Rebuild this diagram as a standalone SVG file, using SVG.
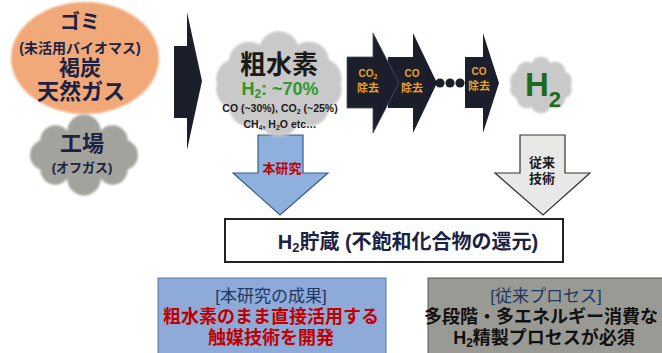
<svg xmlns="http://www.w3.org/2000/svg" width="662" height="353" viewBox="0 0 662 353">
<defs>
<style>
.t{font-family:"Liberation Sans","Noto Sans CJK JP",sans-serif;font-weight:bold;text-anchor:middle}
.navy{fill:#1b2243}
.dark{fill:#1b1e2b}
.cl{fill:#c9c9c9}
.or{fill:#e9a22a}
</style>
<filter id="soft" x="-10%" y="-10%" width="120%" height="120%"><feGaussianBlur stdDeviation="1.2"/></filter>
</defs>
<rect width="662" height="353" fill="#ffffff"/>

<g id="source-waste">
<ellipse cx="85" cy="58" rx="74" ry="56" fill="#f1a97a" filter="url(#soft)"/>
<text class="t navy" x="80" y="29" font-size="20">ゴミ</text>
<text class="t navy" x="80" y="53" font-size="14">(未活用バイオマス)</text>
<text class="t navy" x="80" y="75" font-size="21">褐炭</text>
<text class="t navy" x="81" y="99" font-size="22">天然ガス</text>
</g>

<g id="source-factory">
<path d="M138,155 A15,15 0 0 1 127.7,169.7 A15,15 0 0 1 100.7,178.8 A15,15 0 0 1 67.3,178.8 A15,15 0 0 1 40.3,169.7 A15,15 0 0 1 30,155 A15,15 0 0 1 40.3,140.3 A15,15 0 0 1 67.3,131.2 A15,15 0 0 1 100.7,131.2 A15,15 0 0 1 127.7,140.3 A15,15 0 0 1 138,155 Z" fill="#a3a39d" filter="url(#soft)"/>
<text class="t navy" x="82" y="151" font-size="22">工場</text>
<text class="t navy" x="82" y="172" font-size="13">(オフガス)</text>
</g>

<g id="connectors">
<polygon class="dark" points="174,46 187,46 187,12 202,81 187,150 187,118 174,118"/>
<polygon class="dark" points="388,57 413,57 413,33 437,83 413,133 413,108 388,108"/>
<polygon class="dark" points="347,57 373,57 373,33 399,83 373,133 373,108 347,108" stroke="#4a4f63" stroke-width="0.8"/>
<circle class="dark" cx="440" cy="83" r="4.6"/>
<circle class="dark" cx="450" cy="83" r="4.6"/>
<circle class="dark" cx="460" cy="83" r="4.6"/>
<polygon class="dark" points="465,57 483,57 483,33 499,83 483,133 483,108 465,108"/>
<polygon points="258,135 303,135 303,173 328,173 280,215 233,173 258,173" fill="#8db0dd" stroke="#3a5a8a" stroke-width="1.2"/>
<polygon points="520,135 565,135 565,173 590,173 543,215 495,173 520,173" fill="#e8e8e6" stroke="#333333" stroke-width="1.2"/>
</g>

<g id="step-co2">
<text class="t or" x="368" y="77" font-size="10">CO<tspan font-size="7" dy="2">2</tspan></text>
<text class="t or" x="368" y="92" font-size="11">除去</text>
</g>
<g id="step-co1">
<text class="t or" x="412" y="77" font-size="10">CO</text>
<text class="t or" x="412" y="92" font-size="11">除去</text>
</g>
<g id="step-co2b">
<text class="t or" x="479" y="75" font-size="10">CO</text>
<text class="t or" x="479" y="90" font-size="11">除去</text>
</g>

<g id="crude-h2">
<path class="cl" filter="url(#soft)" d="M341,84 A20,20 0 0 1 329,108 A20,20 0 0 1 298,123 A20,20 0 0 1 260,123 A20,20 0 0 1 229,108 A20,20 0 0 1 217,84 A20,20 0 0 1 229,60 A20,20 0 0 1 260,45 A20,20 0 0 1 298,45 A20,20 0 0 1 329,60 A20,20 0 0 1 341,84 Z"/>
<text class="t" x="279" y="74" font-size="26" fill="#1a1a1a">粗水素</text>
<text class="t" x="280" y="95" font-size="18" fill="#2e9a2e">H<tspan font-size="12" dy="3">2</tspan><tspan dy="-3">: ~70%</tspan></text>
<text class="t" x="280" y="112" font-size="10.5" fill="#1a1a1a">CO (~30%), CO<tspan font-size="7" dy="2">2</tspan><tspan dy="-2"> (~25%)</tspan></text>
<text class="t" x="280" y="128" font-size="10.5" fill="#1a1a1a">CH<tspan font-size="7" dy="2">4</tspan><tspan dy="-2">, H</tspan><tspan font-size="7" dy="2">2</tspan><tspan dy="-2">O etc…</tspan></text>
</g>

<g id="pure-h2">
<path class="cl" filter="url(#soft)" d="M571,85 A10,10 0 0 1 565.3,98.5 A10,10 0 0 1 550.3,106.9 A10,10 0 0 1 531.7,106.9 A10,10 0 0 1 516.7,98.5 A10,10 0 0 1 511,85 A10,10 0 0 1 516.7,71.5 A10,10 0 0 1 531.7,63.1 A10,10 0 0 1 550.3,63.1 A10,10 0 0 1 565.3,71.5 A10,10 0 0 1 571,85 Z"/>
<text class="t" x="543" y="96" font-size="33" fill="#1e6a1e">H<tspan font-size="22" dy="11">2</tspan></text>
</g>

<g id="label-this-work">
<text class="t" x="282" y="173" font-size="13" fill="#c00000">本研究</text>
</g>
<g id="label-conventional">
<text class="t" x="542" y="167" font-size="13" fill="#1a1a1a">従来</text>
<text class="t" x="542" y="183" font-size="13" fill="#1a1a1a">技術</text>
</g>

<g id="h2-storage">
<rect x="225" y="219" width="338" height="43" fill="#ffffff" stroke="#222222" stroke-width="2"/>
<text class="t navy" x="408" y="249" font-size="20">H<tspan font-size="13" dy="3">2</tspan><tspan dy="-3">貯蔵 (不飽和化合物の還元)</tspan></text>
</g>

<g id="result-box">
<rect x="158" y="278" width="228" height="80" fill="#8eaad8" stroke="#5a78a8" stroke-width="1"/>
<text class="t" x="271" y="302" font-size="17" fill="#1f3864" style="font-weight:normal">[本研究の成果]</text>
<text class="t" x="271" y="323" font-size="18" fill="#c00000">粗水素のまま直接活用する</text>
<text class="t" x="271" y="344" font-size="18" fill="#c00000">触媒技術を開発</text>
</g>

<g id="conventional-box">
<rect x="428" y="278" width="240" height="80" fill="#9a9a94" stroke="#555555" stroke-width="1"/>
<text class="t" x="546" y="302" font-size="17" fill="#1f3864" style="font-weight:normal">[従来プロセス]</text>
<text class="t" x="541" y="323" font-size="18" fill="#111111">多段階・多エネルギー消費な</text>
<text class="t" x="544" y="344" font-size="18" fill="#111111">H<tspan font-size="12" dy="3">2</tspan><tspan dy="-3">精製プロセスが必須</tspan></text>
</g>
</svg>
